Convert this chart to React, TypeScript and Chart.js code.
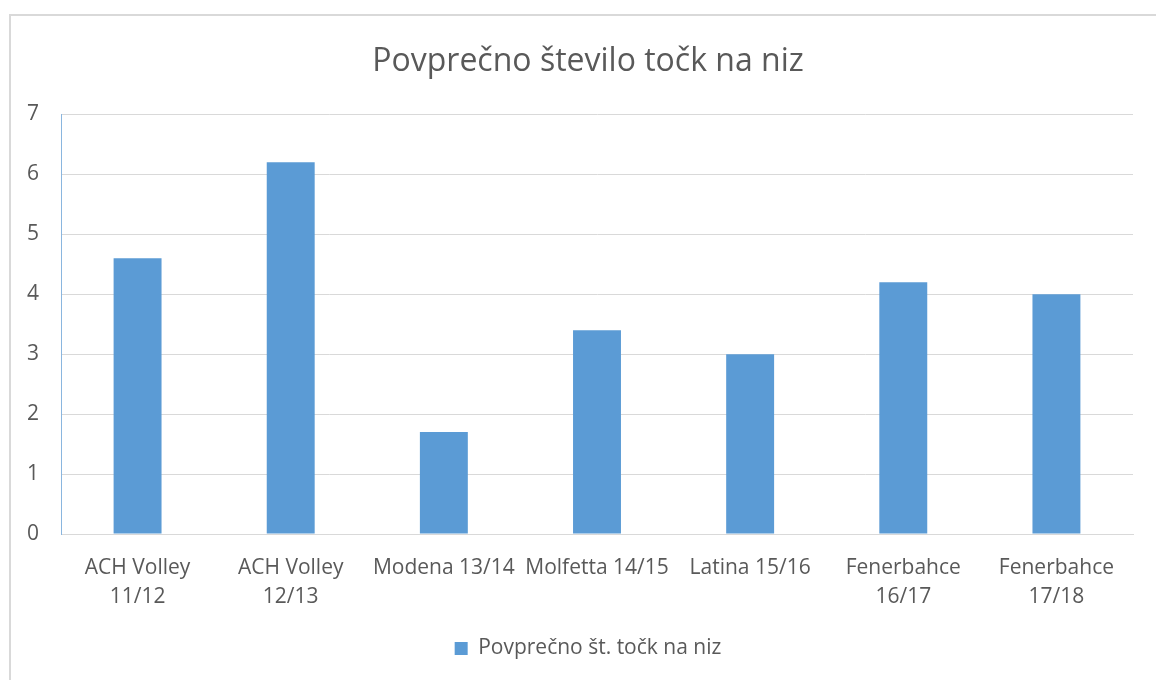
import { useEffect, useRef } from "react";
import { Chart, registerables } from "chart.js";

Chart.register(...registerables);

const chartTitle = "Povprečno število točk na niz";
const seriesLabel = "Povprečno št. točk na niz";
const categories: (string | string[])[] = [
  ["ACH Volley", "11/12"],
  ["ACH Volley", "12/13"],
  "Modena 13/14",
  "Molfetta 14/15",
  "Latina 15/16",
  ["Fenerbahce", "16/17"],
  ["Fenerbahce", "17/18"],
];
const values = [4.6, 6.2, 1.7, 3.4, 3.0, 4.2, 4.0];
const yMin = 0;
const yMax = 7;
const yStep = 1;

const FONT = "'Open Sans', sans-serif";
const TEXT = "#595959";
const BAR = "#5B9BD5";
const GRID = "#d9d9d9";

const framePlugin = {
  id: "frame",
  beforeDraw(chart: any) {
    const ctx = chart.ctx;
    ctx.save();
    ctx.fillStyle = "#ffffff";
    ctx.fillRect(0, 0, chart.width, chart.height);
    ctx.strokeStyle = GRID;
    ctx.lineWidth = 2;
    ctx.strokeRect(10, 15, chart.width + 20, chart.height + 20);
    ctx.restore();
  },
};

export default function App() {
  const ref = useRef<HTMLCanvasElement>(null);
  useEffect(() => {
    if (!ref.current) return;
    const chart = new Chart(ref.current, {
      type: "bar",
      data: {
        labels: categories,
        datasets: [
          {
            label: seriesLabel,
            data: values,
            backgroundColor: BAR,
            borderWidth: 0,
            barPercentage: 0.313,
            categoryPercentage: 1,
          },
        ],
      },
      plugins: [framePlugin],
      options: {
        responsive: false,
        animation: false,
        layout: { padding: { left: 20, right: 0, top: 0, bottom: 11 } },
        plugins: {
          title: {
            display: true,
            text: chartTitle,
            color: TEXT,
            font: { family: FONT, size: 32, weight: "normal", lineHeight: 1.2 },
            padding: { top: 43, bottom: 33 },
          },
          legend: {
            display: true,
            position: "bottom",
            labels: {
              color: TEXT,
              font: { family: FONT, size: 21 },
              boxWidth: 13,
              boxHeight: 13,
              padding: 12,
            },
          },
          tooltip: { enabled: false },
        },
        scales: {
          x: {
            grid: { display: true, drawOnChartArea: false, drawTicks: false, color: GRID },
            border: { display: true, color: GRID, width: 1 },
            ticks: {
              color: TEXT,
              font: { family: FONT, size: 21, lineHeight: 1.35 },
              maxRotation: 0,
              minRotation: 0,
              autoSkip: false,
              padding: 20,
            },
            afterFit(scale: any) {
              scale.height = 92;
            },
          },
          y: {
            min: yMin,
            max: yMax,
            grid: { color: GRID, drawTicks: false },
            border: { display: true, color: "#8ab6df", width: 1 },
            ticks: {
              stepSize: yStep,
              color: TEXT,
              font: { family: FONT, size: 21 },
              padding: 22,
            },
            afterFit(scale: any) {
              scale.width = 41;
            },
          },
          yRightSpace: {
            type: "linear",
            position: "right",
            display: true,
            grid: { display: false, drawTicks: false },
            border: { display: false },
            ticks: { display: false },
            afterFit(scale: any) {
              scale.width = 23;
            },
          },
        },
      },
    });
    return () => chart.destroy();
  }, []);
  return (
    <div style={{ position: "absolute", left: 0, top: 0, width: 1156, height: 680 }}>
      <canvas ref={ref} width={1156} height={680} />
    </div>
  );
}
